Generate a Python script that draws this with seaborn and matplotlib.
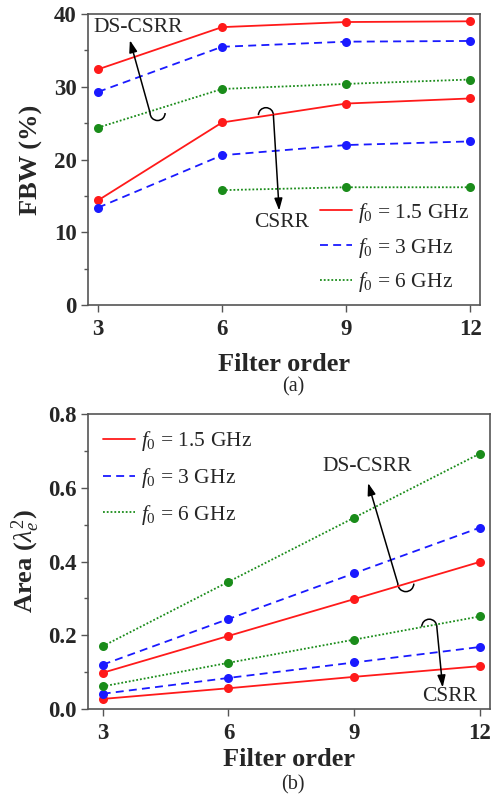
import numpy as np
import pandas as pd
import matplotlib
matplotlib.use("Agg")
import matplotlib.pyplot as plt
from matplotlib.patches import Arc
from matplotlib.lines import Line2D
import seaborn as sns

# ---------------- data ----------------
orders = [3, 6, 9, 12]
freq_labels = ["1.5 GHz", "3 GHz", "6 GHz"]

# FBW (%) - DS-CSRR
fbw_ds_15 = [32.4, 38.2, 38.9, 39.0]
fbw_ds_3 = [29.3, 35.5, 36.2, 36.3]
fbw_ds_6 = [24.4, 29.7, 30.4, 31.0]
# FBW (%) - CSRR
fbw_cs_15 = [14.4, 25.1, 27.7, 28.4]
fbw_cs_3 = [13.4, 20.6, 22.0, 22.5]
fbw_cs_6 = [np.nan, 15.8, 16.2, 16.2]

# Area (lambda_e^2) - DS-CSRR
area_ds_15 = [0.098, 0.198, 0.298, 0.399]
area_ds_3 = [0.120, 0.244, 0.368, 0.492]
area_ds_6 = [0.170, 0.345, 0.519, 0.693]
# Area - CSRR
area_cs_15 = [0.027, 0.056, 0.087, 0.116]
area_cs_3 = [0.041, 0.084, 0.126, 0.168]
area_cs_6 = [0.061, 0.125, 0.188, 0.251]

sns.set_theme(style="ticks")
plt.rcParams["font.family"] = ["Liberation Serif", "DejaVu Serif"]
plt.rcParams["mathtext.fontset"] = "custom"
plt.rcParams["mathtext.rm"] = "Liberation Serif"
plt.rcParams["mathtext.it"] = "Liberation Serif:italic"
plt.rcParams["mathtext.bf"] = "Liberation Serif:bold"

colors = ["#ff1a1a", "#1a1aff", "#1a8c1a"]
styles = ["-", (0, (4.4, 2.9)), (0, (1, 1.1))]
LW = 1.3

fig = plt.figure(figsize=(4.95, 8.01), dpi=100)
ax1 = fig.add_axes([0.178, 0.619, 0.792, 0.3635])
ax2 = fig.add_axes([0.177, 0.115, 0.813, 0.368])

def draw(ax, ds_sets, cs_sets):
    for i, (ds, cs) in enumerate(zip(ds_sets, cs_sets)):
        for vals in (ds, cs):
            df = pd.DataFrame({"order": orders, "val": vals}).dropna()
            sns.lineplot(data=df, x="order", y="val", ax=ax, color=colors[i],
                         linestyle=styles[i], linewidth=LW, marker="o",
                         markersize=6.5, markeredgewidth=0, legend=False)

draw(ax1, [fbw_ds_15, fbw_ds_3, fbw_ds_6], [fbw_cs_15, fbw_cs_3, fbw_cs_6])
draw(ax2, [area_ds_15, area_ds_3, area_ds_6], [area_cs_15, area_cs_3, area_cs_6])

tick_fs = 16.5
label_fs = 19
for ax in (ax1, ax2):
    ax.set_xticks(orders)
    for sp in ax.spines.values():
        sp.set_color("#555555")
        sp.set_linewidth(1.2)
        sp.set_visible(True)
    ax.tick_params(axis="both", which="major", direction="out", length=5,
                   width=1.0, color="#555555", labelsize=tick_fs, pad=3)
    ax.tick_params(axis="x", which="major", pad=5)
    ax.tick_params(axis="y", which="minor", direction="out", length=3,
                   width=1.0, color="#555555")

ax1.set_xlabel("Filter order", fontsize=label_fs, fontweight="bold", labelpad=9)
ax2.set_xlabel("Filter order", fontsize=label_fs, fontweight="bold", labelpad=3)

ax1.set_xlim(2.76, 12.24)
ax1.set_ylim(0, 40)
ax1.set_yticks([0, 10, 20, 30, 40])
ax1.set_yticks([5, 15, 25, 35], minor=True)
ax1.set_ylabel("FBW (%)", fontsize=label_fs, fontweight="bold", labelpad=8)

ax2.set_xlim(2.64, 12.24)
ax2.set_ylim(0, 0.8)
ax2.set_yticks([0.0, 0.2, 0.4, 0.6, 0.8])
ax2.set_yticklabels(["0.0", "0.2", "0.4", "0.6", "0.8"])
ax2.set_yticks([0.1, 0.3, 0.5, 0.7], minor=True)
ax2.set_ylabel(r"Area ($\lambda_e^2$)", fontsize=label_fs, fontweight="bold", labelpad=4)

for ax in (ax1, ax2):
    for lab in ax.get_xticklabels() + ax.get_yticklabels():
        lab.set_fontweight("bold")

handles = [Line2D([], [], color=colors[i], linestyle=styles[i], linewidth=LW)
           for i in range(3)]
labels = [r"$f_{\mathit{0}}$ = " + f for f in freq_labels]
leg_kw = dict(frameon=False, fontsize=15.5, handlelength=1.5, handletextpad=0.3)
ax1.legend(handles, labels, loc="lower right", borderaxespad=0.1,
           labelspacing=0.5, **leg_kw)
ax2.legend(handles, labels, loc="upper left", borderaxespad=0.3,
           labelspacing=0.6, **leg_kw)

# ---------------- annotations ----------------
arrow_kw = dict(arrowstyle="-|>,head_length=0.6,head_width=0.2", color="black", lw=1.1,
                shrinkA=0, shrinkB=0)
txt_fs = 15.5

# top: DS-CSRR
ax1.text(3.97, 38.2, "DS-CSRR", ha="center", va="center", fontsize=txt_fs)
ax1.annotate("", xy=(3.77, 36.4), xytext=(4.26, 26.4), arrowprops=arrow_kw)
ax1.add_patch(Arc((4.44, 26.4), 0.363, 2.06, theta1=180, theta2=360, color="black", lw=1.1))
# top: CSRR
ax1.text(7.43, 11.4, "CSRR", ha="center", va="center", fontsize=txt_fs)
ax1.annotate("", xy=(7.38, 13.0), xytext=(7.24, 26.1), arrowprops=arrow_kw)
ax1.add_patch(Arc((7.06, 26.1), 0.363, 2.06, theta1=0, theta2=180, color="black", lw=1.1))

# bottom: DS-CSRR
ax2.text(9.30, 0.657, "DS-CSRR", ha="center", va="center", fontsize=txt_fs)
ax2.annotate("", xy=(9.33, 0.613), xytext=(10.04, 0.340), arrowprops=arrow_kw)
ax2.add_patch(Arc((10.23, 0.340), 0.382, 0.0434, theta1=180, theta2=360, color="black", lw=1.1))
# bottom: CSRR
ax2.text(11.28, 0.034, "CSRR", ha="center", va="center", fontsize=txt_fs)
ax2.annotate("", xy=(11.11, 0.058), xytext=(10.97, 0.223), arrowprops=arrow_kw)
ax2.add_patch(Arc((10.79, 0.223), 0.358, 0.0407, theta1=0, theta2=180, color="black", lw=1.1))

fig.text(293 / 495, 1 - 387 / 801, "(a)", ha="center", va="center", fontsize=14.5)
fig.text(293 / 495, 1 - 785 / 801, "(b)", ha="center", va="center", fontsize=14.5)

fig.savefig("out.png", dpi=100)
